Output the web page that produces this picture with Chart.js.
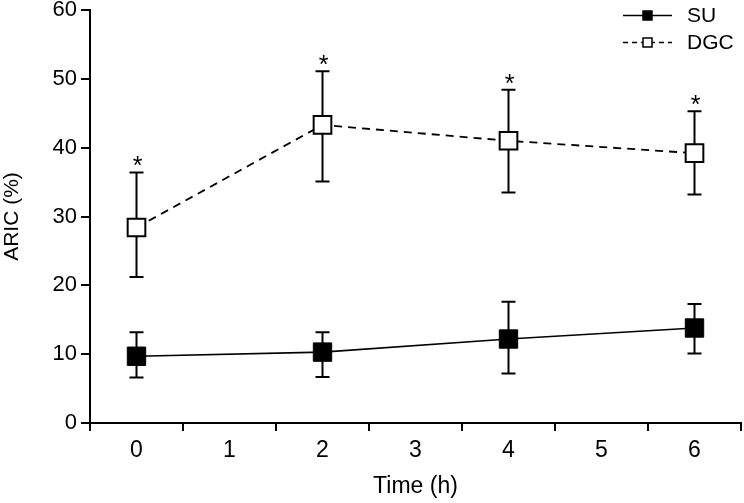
<!DOCTYPE html>
<html>
<head>
<meta charset="utf-8">
<script src="https://cdn.jsdelivr.net/npm/chart.js@4/dist/chart.umd.min.js"></script>
<style>
  html, body { margin: 0; padding: 0; background: #fff; overflow: hidden; }
  #wrap { width: 744px; height: 503px; position: relative; }
</style>
</head>
<body>
<div id="wrap"><canvas id="aricChart"></canvas></div>
<script>
// ARIC over time, two groups
const timeLabels = ['0', '1', '2', '3', '4', '5', '6'];
const measuredTimes = ['0', '2', '4', '6'];
const yTicks = [0, 10, 20, 30, 40, 50, 60];

const suMean = [9.7, 10.3, 12.2, 13.8];
const suLow = [6.6, 6.7, 7.2, 10.1];
const suHigh = [13.2, 13.2, 17.6, 17.3];

const dgcMean = [28.4, 43.3, 41.0, 39.2];
const dgcLow = [21.2, 35.1, 33.5, 33.2];
const dgcHigh = [36.4, 51.1, 48.4, 45.3];
const dgcStars = ['*', '*', '*', '*'];

const FONT = 'Liberation Sans, Arial, sans-serif';

function points(means) {
  return measuredTimes.map((t, i) => ({ x: t, y: means[i] }));
}

// error bars under markers, asterisks above DGC
const errorBars = {
  id: 'errorBars',
  beforeDatasetsDraw(chart) {
    const ctx = chart.ctx;
    const x = chart.scales.x, y = chart.scales.y;
    const sets = [[suLow, suHigh], [dgcLow, dgcHigh]];
    ctx.save();
    ctx.strokeStyle = '#000';
    ctx.lineWidth = 2;
    sets.forEach(([lo, hi]) => {
      measuredTimes.forEach((t, i) => {
        const px = x.getPixelForValue(timeLabels.indexOf(t));
        const y1 = y.getPixelForValue(lo[i]);
        const y2 = y.getPixelForValue(hi[i]);
        ctx.beginPath();
        ctx.moveTo(px, y1); ctx.lineTo(px, y2);
        ctx.moveTo(px - 7, y1); ctx.lineTo(px + 7, y1);
        ctx.moveTo(px - 7, y2); ctx.lineTo(px + 7, y2);
        ctx.stroke();
      });
    });
    ctx.restore();
  },
  afterDatasetsDraw(chart) {
    const ctx = chart.ctx;
    const x = chart.scales.x, y = chart.scales.y;
    ctx.save();
    ctx.fillStyle = '#000';
    ctx.font = '25px ' + FONT;
    ctx.textAlign = 'center';
    ctx.textBaseline = 'alphabetic';
    measuredTimes.forEach((t, i) => {
      const px = x.getPixelForValue(timeLabels.indexOf(t));
      const py = y.getPixelForValue(dgcHigh[i]);
      ctx.fillText(dgcStars[i], px + 1, py + 2);
    });

    // legend
    const rows = [
      { label: 'SU', y: 15.5, dash: [], fill: '#000' },
      { label: 'DGC', y: 42.5, dash: [5, 4], fill: '#fff' }
    ];
    rows.forEach(r => {
      ctx.strokeStyle = '#000';
      ctx.lineWidth = 1.6;
      ctx.setLineDash(r.dash);
      ctx.beginPath();
      ctx.moveTo(623, r.y); ctx.lineTo(672, r.y);
      ctx.stroke();
      ctx.setLineDash([]);
      ctx.fillStyle = r.fill;
      ctx.fillRect(643, r.y - 4.5, 9, 9);
      ctx.lineWidth = 1.5;
      ctx.strokeRect(643, r.y - 4.5, 9, 9);
      ctx.fillStyle = '#000';
      ctx.font = '21px ' + FONT;
      ctx.textAlign = 'left';
      ctx.textBaseline = 'middle';
      ctx.fillText(r.label, 687, r.y + 1);
    });
    ctx.restore();
  }
};

new Chart(document.getElementById('aricChart'), {
  type: 'line',
  data: {
    labels: timeLabels,
    datasets: [
      {
        label: 'SU',
        data: points(suMean),
        borderColor: '#000',
        borderWidth: 1.6,
        pointStyle: 'rect',
        pointRadius: 13,
        pointBackgroundColor: '#000',
        pointBorderColor: '#000',
        pointBorderWidth: 1
      },
      {
        label: 'DGC',
        data: points(dgcMean),
        borderColor: '#000',
        borderWidth: 1.8,
        borderDash: [8, 6],
        pointStyle: 'rect',
        pointRadius: 12.5,
        pointBackgroundColor: '#fff',
        pointBorderColor: '#000',
        pointBorderWidth: 2
      }
    ]
  },
  options: {
    responsive: true,
    maintainAspectRatio: false,
    animation: false,
    events: [],
    layout: { autoPadding: false, padding: { top: 10, right: 3, left: 0, bottom: 0 } },
    plugins: { legend: { display: false }, tooltip: { enabled: false } },
    scales: {
      x: {
        type: 'category',
        offset: true,
        grid: { offset: true, drawOnChartArea: false, drawTicks: true, tickLength: 8, color: '#000', lineWidth: 2 },
        border: { display: true, color: '#000', width: 2 },
        ticks: { color: '#000', font: { family: FONT, size: 23 }, padding: 6, maxRotation: 0 },
        title: { display: true, text: 'Time (h)', color: '#000', font: { family: FONT, size: 23 }, padding: { top: 0, bottom: 3 } },
        afterFit(s) { s.height = 80; s.paddingLeft = 0; s.paddingRight = 0; }
      },
      y: {
        min: 0,
        max: 60,
        afterBuildTicks(s) { s.ticks = yTicks.map(v => ({ value: v })); },
        grid: { drawOnChartArea: false, drawTicks: true, tickLength: 9, color: '#000', lineWidth: 2 },
        border: { display: true, color: '#000', width: 2 },
        ticks: { color: '#000', font: { family: FONT, size: 22 }, padding: 4 },
        title: { display: true, text: 'ARIC (%)', color: '#000', font: { family: FONT, size: 21 }, padding: { top: 0, bottom: 0 } },
        afterFit(s) { s.width = 90; s.paddingTop = 0; s.paddingBottom = 0; }
      }
    }
  },
  plugins: [errorBars]
});
</script>
</body>
</html>
